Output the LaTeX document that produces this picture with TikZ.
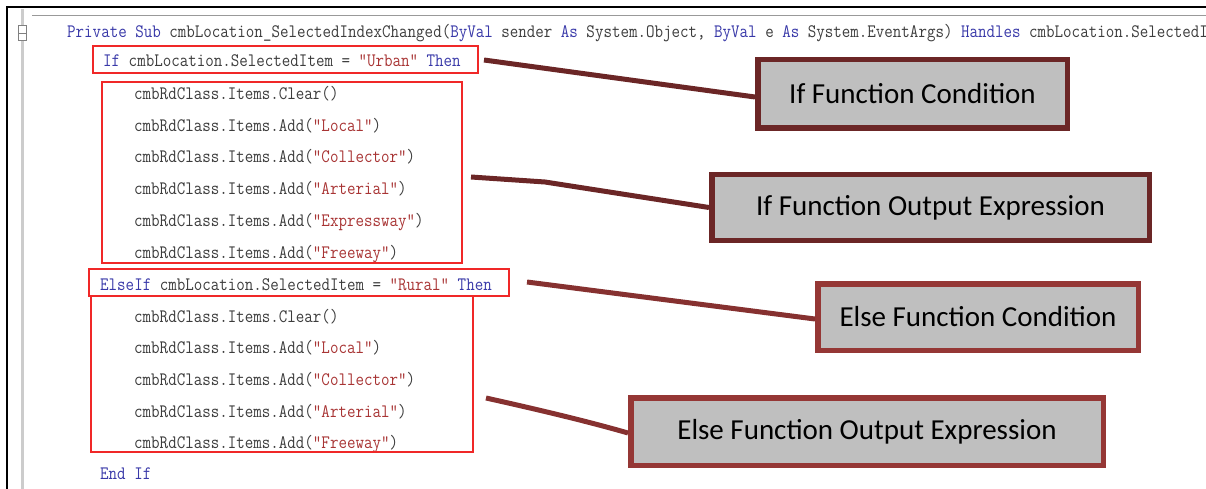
\documentclass[tikz,border=0pt]{standalone}
\usepackage{fontspec}
\newfontfamily\calloutfont{Carlito}
\newfontfamily\codefont[FakeStretch=0.87]{Latin Modern Mono}
\definecolor{codegray}{HTML}{3C3C3C}
\definecolor{kwblue}{HTML}{3838A8}
\definecolor{strred}{HTML}{A83434}
\definecolor{boxred}{HTML}{F02828}
\definecolor{darkmaroon}{HTML}{6B2626}
\definecolor{redmaroon}{HTML}{953735}
\definecolor{calloutfill}{HTML}{BFBFBF}
\newcommand{\kwd}[1]{\textcolor{kwblue}{#1}}
\newcommand{\strg}[1]{\textcolor{strred}{#1}}
\tikzset{
  codeline/.style={anchor=base west, inner sep=0pt, text=codegray,
    font=\codefont\fontsize{19}{19}\selectfont},
  redbox/.style={draw=boxred, line width=1.6pt},
  callout/.style={draw, fill=calloutfill, line width=5.5pt, inner sep=0pt,
    font=\calloutfont\fontsize{29}{32}\selectfont, text=black},
  darkcall/.style={callout, draw=darkmaroon},
  redcall/.style={callout, draw=redmaroon},
  darkconn/.style={draw=darkmaroon, line width=5pt},
  redconn/.style={draw=redmaroon!90!black, line width=5pt},
}
\begin{document}
\begin{tikzpicture}[x=1pt,y=-1pt]
\useasboundingbox (0,0) rectangle (1206,489);
\clip (0,0) rectangle (1206,489);
% editor frame
\draw[black, line width=2pt] (7,489) -- (7,7) -- (1206,7);
\draw[gray!40, line width=3pt] (22,9) -- (22,489);
\draw[gray!80, line width=1pt] (32,16) -- (1206,16);
\draw[gray, fill=white, line width=1pt] (18.5,26) rectangle (26.5,41);
\draw[gray, line width=1pt] (18.5,33.5) -- (26.5,33.5);
% code lines
\node[codeline] (l1) at (67,38) {\kwd{Private Sub} cmbLocation\_SelectedIndexChanged(\kwd{ByVal} sender \kwd{As} System.Object, \kwd{ByVal} e \kwd{As} System.EventArgs) \kwd{Handles} cmbLocation.SelectedI};
\node[codeline] (l2) at (103,67) {\kwd{If} cmbLocation.SelectedItem = \strg{"Urban"} \kwd{Then}};
\node[codeline] (l3) at (134,100) {cmbRdClass.Items.Clear()};
\node[codeline] (l4) at (134,132) {cmbRdClass.Items.Add(\strg{"Local"})};
\node[codeline] (l5) at (134,163) {cmbRdClass.Items.Add(\strg{"Collector"})};
\node[codeline] (l6) at (134,194) {cmbRdClass.Items.Add(\strg{"Arterial"})};
\node[codeline] (l7) at (134,226) {cmbRdClass.Items.Add(\strg{"Expressway"})};
\node[codeline] (l8) at (134,258) {cmbRdClass.Items.Add(\strg{"Freeway"})};
\node[codeline] (l9) at (100,290) {\kwd{ElseIf} cmbLocation.SelectedItem = \strg{"Rural"} \kwd{Then}};
\node[codeline] (l10) at (134,322) {cmbRdClass.Items.Clear()};
\node[codeline] (l11) at (134,353) {cmbRdClass.Items.Add(\strg{"Local"})};
\node[codeline] (l12) at (134,385) {cmbRdClass.Items.Add(\strg{"Collector"})};
\node[codeline] (l13) at (134,417) {cmbRdClass.Items.Add(\strg{"Arterial"})};
\node[codeline] (l14) at (134,448) {cmbRdClass.Items.Add(\strg{"Freeway"})};
\node[codeline] (l15) at (100,479) {\kwd{End If}};
% red highlight boxes
\draw[redbox] (93,46) rectangle (478,73);
\draw[redbox] (102,82) rectangle (462,263);
\draw[redbox] (89,269) rectangle (509,296);
\draw[redbox] (91,296) rectangle (473,452);
% callout boxes
\node[darkcall, minimum width=309.5pt, minimum height=68.5pt] (A) at (912.5,94) {If Function Condition};
\node[darkcall, minimum width=437.5pt, minimum height=65.5pt] (B) at (930.5,207.5) {If Function Output Expression};
\node[redcall, minimum width=320.5pt, minimum height=66.5pt] (C) at (978,317) {Else Function Condition};
\node[redcall, minimum width=472.5pt, minimum height=67.5pt] (D) at (867,431.5) {Else Function Output Expression};
% connector start points
\coordinate (sA) at (484,60);
\coordinate (sB) at (471,177);
\coordinate (mB) at (545,182);
\coordinate (sC) at (527,282);
\coordinate (sD) at (486,398);
% connectors
\draw[darkconn] (sA) -- ([yshift=-3pt]A.west);
\draw[darkconn, line join=round] (sB) -- (mB) -- (B.west);
\draw[redconn] (sC) -- ([yshift=-2pt]C.west);
\draw[redconn] (sD) .. controls (540,410) and (590,422) .. ([yshift=-1.5pt]D.west);
\end{tikzpicture}
\end{document}
